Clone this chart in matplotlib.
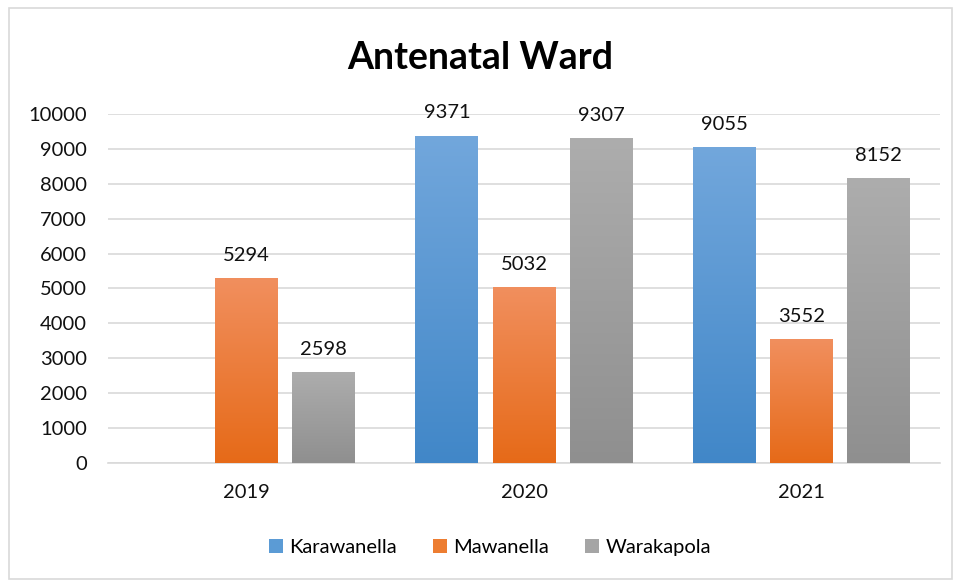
import numpy as np
import matplotlib
matplotlib.use('Agg')
import matplotlib.pyplot as plt
from matplotlib.colors import LinearSegmentedColormap
from matplotlib.patches import Rectangle, Patch

years = ['2019', '2020', '2021']
series = ['Karawanella', 'Mawanella', 'Warakapola']
karawanella = [0, 9371, 9055]
mawanella = [5294, 5032, 3552]
warakapola = [2598, 9307, 8152]
y_ticks = [0, 1000, 2000, 3000, 4000, 5000, 6000, 7000, 8000, 9000, 10000]

# (top colour, bottom colour, legend colour) per series
colours = [('#72a7dc', '#4187c8', '#5b9bd5'),
           ('#f18f5e', '#e66a18', '#ed7d31'),
           ('#adadad', '#8f8f8f', '#a5a5a5')]

plt.rcParams['font.family'] = ['Lato', 'DejaVu Sans']
FS = 14.5

fig = plt.figure(figsize=(9.61, 5.82), dpi=100)
fig.patches.append(Rectangle((0.009, 0.006), 0.982, 0.98, transform=fig.transFigure,
                             fill=False, edgecolor='#d9d9d9', linewidth=1.2))
ax = fig.add_axes([0.1124, 0.2045, 0.8658, 0.5997])

x = np.arange(len(years))
width = 0.227
offsets = [-0.278, 0.0, 0.278]
grad = np.linspace(0, 1, 256).reshape(-1, 1)

for vals, off, (top, bot, _) in zip([karawanella, mawanella, warakapola], offsets, colours):
    cmap = LinearSegmentedColormap.from_list('g', [bot, top])
    bars = ax.bar(x + off, vals, width, color='none', edgecolor='none', zorder=3)
    for b, v in zip(bars, vals):
        if v <= 0:
            continue
        x0 = b.get_x()
        im = ax.imshow(grad, cmap=cmap, origin='lower', aspect='auto',
                       extent=(x0, x0 + width, 0, v), zorder=3)
        im.set_clip_path(b)
        ax.annotate(str(v), (b.get_x() + width / 2, v), xytext=(0, 16.5),
                    textcoords='offset points', ha='center', va='center',
                    fontsize=FS, color='#111111')

ax.set_xlim(-0.5, 2.5)
ax.set_ylim(0, 10000)
ax.set_xticks(x)
ax.set_xticklabels(years)
ax.set_yticks(y_ticks)
ax.tick_params(axis='both', length=0, labelsize=FS, colors='#111111')
ax.tick_params(axis='y', pad=15)
ax.tick_params(axis='x', pad=15)
ax.grid(axis='y', color='#d9d9d9', linewidth=1.2, zorder=0)
ax.set_axisbelow(True)
for s in ['top', 'right', 'left']:
    ax.spines[s].set_visible(False)
ax.spines['bottom'].set_color('#d9d9d9')
ax.spines['bottom'].set_linewidth(1.2)

fig.text(0.5, 0.9, 'Antenatal Ward', ha='center', va='center',
         fontsize=27, fontweight='bold', color='#000000')

handles = [Patch(facecolor=c[2], edgecolor='none') for c in colours]
fig.legend(handles, series, loc='center', bbox_to_anchor=(0.51, 0.06), ncol=3,
           frameon=False, fontsize=FS, handlelength=0.7, handleheight=0.7,
           handletextpad=0.3, columnspacing=1.8)

fig.savefig('out.png', dpi=100)
